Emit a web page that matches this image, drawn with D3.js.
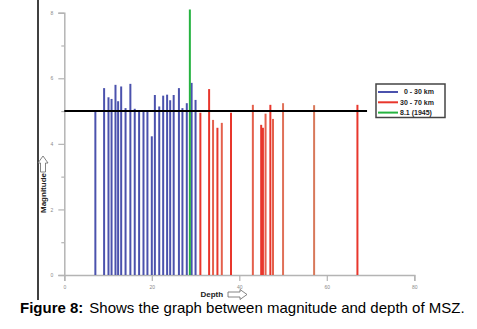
<!DOCTYPE html>
<html>
<head>
<meta charset="utf-8">
<script src="https://cdn.jsdelivr.net/npm/d3@7.9.0/dist/d3.min.js"></script>
<style>
  body { margin: 0; background: #fff; }
  svg { display: block; font-family: "Liberation Sans", Arial, sans-serif; }
</style>
</head>
<body>
<div id="chart"></div>
<script>
// earthquake events, depth (km) and magnitude
const shallowDepth = [7.1, 9.1, 10.1, 10.8, 11.7, 12.3, 13.0, 14.0, 15.1, 16.1, 17.1, 18.1, 19.0, 20.0, 20.7, 21.7, 22.6, 23.5, 24.2, 25.0, 26.2, 27.0, 28.0, 29.1, 30.0];
const shallowMag = [5.0, 5.7, 5.42, 5.37, 5.8, 5.3, 5.75, 5.09, 5.83, 5.07, 5.0, 5.0, 5.0, 4.23, 5.49, 5.14, 5.47, 5.5, 5.33, 5.49, 5.7, 5.09, 5.24, 5.86, 5.34];
const deepDepth = [31.1, 33.1, 34.0, 35.0, 36.0, 38.1, 43.1, 45.0, 45.4, 46.0, 47.1, 47.7, 50.0, 57.1, 67.0];
const deepMag = [4.95, 5.67, 4.73, 4.49, 4.64, 4.95, 5.19, 4.58, 4.49, 4.92, 5.19, 4.76, 5.24, 5.18, 5.19];
const deepColor = ["#e8362c", "#e8362c", "#e4604c", "#e8362c", "#e4604c", "#e8362c", "#e4604c", "#e8362c", "#e8362c", "#e4604c", "#e8362c", "#e4604c", "#e07058", "#d8785a", "#e8362c"];
const bigDepth = [28.7];
const bigMag = [8.1];
const thresholdMag = 5;
const legendLabels = ["0 - 30 km", "30 - 70 km", "8.1 (1945)"];
const legendColors = ["#4b52ad", "#e8362c", "#25b340"];

const W = 477, H = 329;
const svg = d3.select("#chart").append("svg").attr("width", W).attr("height", H);

const x = d3.scaleLinear().domain([0, 80]).range([64.3, 414.3]);
const y = d3.scaleLinear().domain([0, 8]).range([275, 12.7]);

// figure frame line on the left
svg.append("line")
    .attr("x1", 38).attr("x2", 38).attr("y1", 0).attr("y2", 300)
    .attr("stroke", "#000").attr("stroke-width", 1.5);

// y axis: labelled major ticks plus short minor ones
svg.append("g")
    .attr("transform", `translate(${x(0)},0)`)
    .call(d3.axisLeft(y).tickValues([0, 2, 4, 6, 8]).tickSize(6).tickPadding(5).tickFormat(d3.format("d")));
svg.append("g")
    .attr("transform", `translate(${x(0)},0)`)
    .call(d3.axisLeft(y).tickValues([1, 3, 5, 7]).tickSize(3).tickFormat(""))
    .select(".domain").remove();

svg.append("g")
    .attr("transform", `translate(0,${y(0)})`)
    .call(d3.axisBottom(x).tickValues([0, 20, 40, 60, 80]).tickSize(6).tickPadding(4).tickFormat(d3.format("d")));

svg.selectAll(".domain").attr("stroke", "#b4b4b4").attr("stroke-width", 1.5);
svg.selectAll(".tick line").attr("stroke", "#b4b4b4").attr("stroke-width", 1.2);
svg.selectAll(".tick text").attr("fill", "#8a8a8a").style("font-size", "5px");

// bars
const bars = svg.append("g");
bars.selectAll("line.shallow")
    .data(d3.zip(shallowDepth, shallowMag))
    .join("line")
    .attr("class", "shallow")
    .attr("x1", d => x(d[0])).attr("x2", d => x(d[0]))
    .attr("y1", y(0)).attr("y2", d => y(d[1]))
    .attr("stroke", legendColors[0]).attr("stroke-width", 2);

bars.selectAll("line.deep")
    .data(d3.zip(deepDepth, deepMag, deepColor))
    .join("line")
    .attr("class", "deep")
    .attr("x1", d => x(d[0])).attr("x2", d => x(d[0]))
    .attr("y1", y(0)).attr("y2", d => y(d[1]))
    .attr("stroke", d => d[2]).attr("stroke-width", 2);

bars.selectAll("line.big")
    .data(d3.zip(bigDepth, bigMag))
    .join("line")
    .attr("class", "big")
    .attr("x1", d => x(d[0])).attr("x2", d => x(d[0]))
    .attr("y1", y(0)).attr("y2", d => y(d[1]))
    .attr("stroke", legendColors[2]).attr("stroke-width", 2);

// magnitude 5 reference line
svg.append("line")
    .attr("x1", x(0)).attr("x2", x(69.2))
    .attr("y1", y(thresholdMag)).attr("y2", y(thresholdMag))
    .attr("stroke", "#000").attr("stroke-width", 2);

// legend
const lg = svg.append("g").attr("transform", "translate(376,84)");
lg.append("rect")
    .attr("width", 69).attr("height", 33.5)
    .attr("fill", "#fff").attr("stroke", "#444").attr("stroke-width", 1.5);
legendLabels.forEach((lab, i) => {
    const ly = 8 + i * 10.3;
    lg.append("line")
        .attr("x1", 2).attr("x2", 22).attr("y1", ly).attr("y2", ly)
        .attr("stroke", legendColors[i]).attr("stroke-width", 2);
    lg.append("text")
        .attr("x", i === 0 ? 28 : 24).attr("y", ly + 2.3)
        .style("font-size", "7px").style("font-weight", "bold")
        .attr("fill", "#222")
        .text(lab);
});

// axis titles with hollow arrows
svg.append("text")
    .attr("transform", "translate(46,193) rotate(-90)")
    .attr("text-anchor", "middle")
    .style("font-size", "8px").style("font-weight", "bold")
    .attr("fill", "#222")
    .text("Magnitude");
svg.append("path")
    .attr("d", "M40.5,172 L40.5,163 L38,163 L43,156 L48,163 L45.5,163 L45.5,172 Z")
    .attr("fill", "#fff").attr("stroke", "#666").attr("stroke-width", 0.8);

svg.append("text")
    .attr("x", 200.5).attr("y", 297)
    .style("font-size", "8px").style("font-weight", "bold")
    .attr("fill", "#222")
    .text("Depth");
svg.append("path")
    .attr("d", "M228,292 L240,292 L240,289.5 L247,294.5 L240,299.5 L240,297 L228,297 Z")
    .attr("fill", "#fff").attr("stroke", "#666").attr("stroke-width", 0.8);

// caption
const cap = svg.append("text")
    .attr("x", 20).attr("y", 313)
    .style("font-size", "15px")
    .attr("fill", "#000");
cap.append("tspan").style("font-weight", "bold").text("Figure 8:");
cap.append("tspan").attr("dx", 6).text("Shows the graph between magnitude and depth of MSZ.");
</script>
</body>
</html>
